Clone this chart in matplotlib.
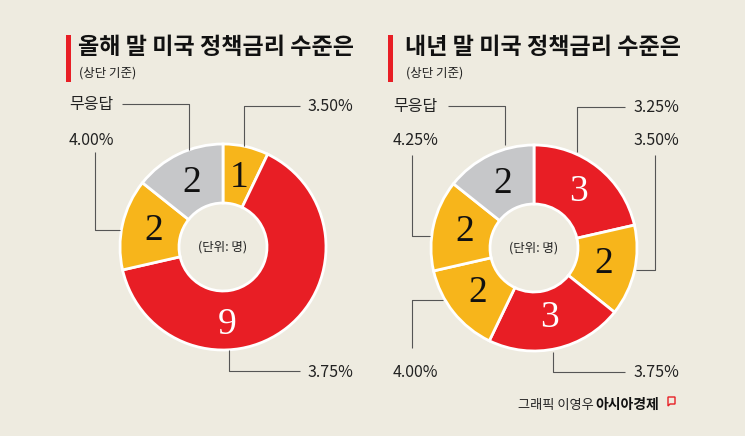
import numpy as np
import matplotlib
matplotlib.use("Agg")
import matplotlib.pyplot as plt
from matplotlib.patches import Rectangle, Polygon

plt.rcParams['font.family'] = ['Noto Sans CJK KR', 'DejaVu Sans']

# data
titles = ['올해 말 미국 정책금리 수준은', '내년 말 미국 정책금리 수준은']
subtitle = '(상단 기준)'
unit_text = '(단위: 명)'

left_labels = ['3.50%', '3.75%', '4.00%', '무응답']
left_values = [1, 9, 2, 2]

right_labels = ['3.25%', '3.50%', '3.75%', '4.00%', '4.25%', '무응답']
right_values = [3, 2, 3, 2, 2, 2]

credit = '그래픽 이영우'
brand = '아시아경제'

# style
BG = '#EEEBE0'
RED = '#E81E25'
YELLOW = '#F7B51B'
GRAY = '#C6C7C9'
LINE = '#555555'

left_colors = [YELLOW, RED, YELLOW, GRAY]
right_colors = [RED, YELLOW, RED, YELLOW, YELLOW, GRAY]

W, H = 745, 436
fig = plt.figure(figsize=(W / 100, H / 100), dpi=100, facecolor=BG)
ax = fig.add_axes([0, 0, 1, 1])
ax.set_facecolor(BG)

R_OUT, R_IN = 103, 44

charts = [
    dict(center=(223, 247), values=left_values, colors=left_colors, labels=left_labels,
         title_x=78, bar_x=66,
         # leader lines (image pixel layout) and label anchors
         leaders={
             '3.50%': ([300, 244, 244], [106, 106, 146], (307, 106)),
             '3.75%': ([300, 229, 229], [371, 371, 350], (307, 372)),
             '4.00%': ([95, 95, 120], [152, 230, 230], (69, 140)),
             '무응답': ([122, 189, 189], [104, 104, 150], (69, 104)),
         }),
    dict(center=(534, 248), values=right_values, colors=right_colors, labels=right_labels,
         title_x=405, bar_x=388,
         leaders={
             '3.25%': ([625, 577, 577], [107, 107, 152], (633, 107)),
             '3.50%': ([655, 655, 636], [155, 270, 270], (633, 140)),
             '3.75%': ([625, 553, 553], [372, 372, 352], (633, 372)),
             '4.00%': ([412, 412, 443], [348, 300, 300], (393, 372)),
             '4.25%': ([412, 412, 430], [155, 236, 236], (393, 140)),
             '무응답': ([448, 505, 505], [106, 106, 145], (393, 106)),
         }),
]

for ch in charts:
    cx, cy = ch['center']
    # y axis is inverted -> counterclock=True draws clockwise on screen
    wedges, _ = ax.pie(ch['values'], colors=ch['colors'], startangle=-90, counterclock=True,
                       radius=R_OUT, center=(cx, cy),
                       wedgeprops=dict(width=R_OUT - R_IN, edgecolor='white', linewidth=2))
    r_lab = (R_OUT + R_IN) / 2 - 2
    for w, v, c in zip(wedges, ch['values'], ch['colors']):
        span = w.theta2 - w.theta1
        mid = np.deg2rad(87 if span > 180 else (w.theta1 + w.theta2) / 2)
        r = 78 if span > 180 else r_lab
        tx, ty = cx + r * np.cos(mid), cy + r * np.sin(mid)
        ax.text(tx, ty, str(v), ha='center', va='center', fontsize=27,
                family='Liberation Serif', color='white' if c == RED else '#111111')
    ax.text(cx, cy, unit_text, ha='center', va='center', fontsize=9, color='#222222')

    for lab, (xs, ys, (lx, ly)) in ch['leaders'].items():
        ax.plot(xs, ys, color=LINE, lw=0.8, solid_capstyle='butt')
        ax.text(lx, ly, lab, ha='left', va='center', fontsize=11.5, color='#222222')

# titles
for ch, t in zip(charts, titles):
    ax.add_patch(Rectangle((ch['bar_x'], 35), 5, 47, color=RED, lw=0))
    ax.text(ch['title_x'], 48, t, ha='left', va='center', fontsize=16.6,
            fontweight='heavy', color='#111111')
    ax.text(ch['title_x'] + 1, 73, subtitle, ha='left', va='center', fontsize=9,
            color='#222222')

# footer
ax.text(518, 405, credit, ha='left', va='center', fontsize=9.5, color='#222222')
ax.text(595, 405, brand, ha='left', va='center', fontsize=10, fontweight='heavy',
        color='#111111')
ax.add_patch(Polygon([[668, 397], [675, 397], [675, 404], [670, 404], [668, 406]],
                     closed=True, fill=False, edgecolor=RED, lw=1))

ax.set_xlim(0, W)
ax.set_ylim(H, 0)
ax.set_aspect('equal')
ax.axis('off')

fig.savefig('out.png', dpi=100, facecolor=BG)
